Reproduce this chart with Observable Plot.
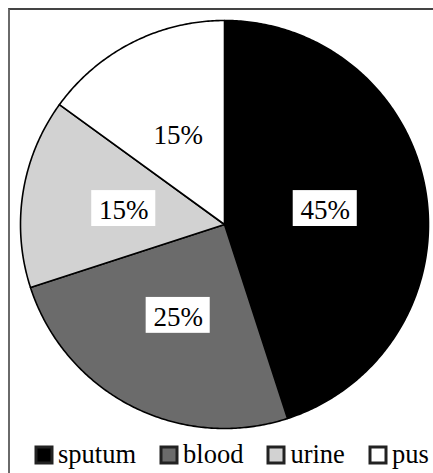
<!DOCTYPE html>
<html><head><meta charset="utf-8">
<script src="https://cdn.jsdelivr.net/npm/d3@7"></script>
<script src="https://cdn.jsdelivr.net/npm/@observablehq/plot@0.6"></script>
<style>
html,body{margin:0;padding:0;background:#fff;overflow:hidden}
#wrap{position:relative;width:433px;height:473px;overflow:hidden;background:#fff}
#frame{position:absolute;left:8px;top:8px;width:600px;height:600px;border-left:2px solid #6a6a6a;border-top:2px solid #444;}
#chart{position:absolute;left:0;top:0}
#legend{position:absolute;left:36px;top:439px;width:420px;white-space:nowrap}
#legend .leg-swatches{font-family:"Liberation Serif",serif !important;font-size:26.5px !important;color:#000 !important;flex-wrap:nowrap !important;min-height:0 !important;margin:0 !important;display:flex !important;align-items:center !important}
#legend .leg-swatch{margin-right:25px !important;font-size:26.5px !important;display:inline-flex !important;align-items:center !important}
#legend .leg-swatch > svg{margin-right:6px !important;width:16px !important;height:16px !important}
#legend .leg-swatch > svg rect{stroke:#222;stroke-width:3px}
</style></head>
<body><div id="wrap"><div id="frame"></div><div id="chart"></div><div id="legend"></div></div>
<script>
const categories = ["sputum", "blood", "urine", "pus"];
const values = [45, 25, 15, 15];
const labels = ["45%", "25%", "15%", "15%"];
const colors = ["#000000", "#6b6b6b", "#d2d2d2", "#ffffff"];

const arcs = d3.pie().sort(null).value(d => d)(values);
const slicePts = [];
arcs.forEach((a, i) => {
  slicePts.push({cat: categories[i], x: 0, y: 0});
  const n = Math.max(2, Math.ceil((a.endAngle - a.startAngle) / 0.01));
  for (let k = 0; k <= n; k++) {
    const t = a.startAngle + (a.endAngle - a.startAngle) * k / n;
    slicePts.push({cat: categories[i], x: Math.sin(t), y: Math.cos(t)});
  }
  slicePts.push({cat: categories[i], x: 0, y: 0});
});
const labelData = arcs.map((a, i) => {
  const m = (a.startAngle + a.endAngle) / 2;
  return {cat: categories[i], label: labels[i], x: 0.5 * Math.sin(m), y: 0.5 * Math.cos(m)};
});
const bw = 0.157, bh = 0.088;

const chart = Plot.plot({
  width: 433, height: 440, margin: 0,
  x: {domain: [-1, 1], range: [20, 428], axis: null},
  y: {domain: [-1, 1], range: [428, 20], axis: null},
  color: {domain: categories, range: colors},
  marks: [
    Plot.line(slicePts, {x: "x", y: "y", z: "cat", fill: "cat", stroke: "#000", strokeWidth: 1.6, curve: "linear", strokeLinejoin: "round"}),
    Plot.rect(labelData, {x1: d => d.x - bw, x2: d => d.x + bw, y1: d => d.y - bh, y2: d => d.y + bh, fill: "#fff"}),
    Plot.text(labelData, {x: "x", y: "y", text: "label", fill: "#000", fontSize: 27, fontFamily: "Liberation Serif", dy: 2})
  ]
});
document.getElementById("chart").appendChild(chart);

const leg = Plot.legend({
  color: {domain: categories, range: colors},
  legend: "swatches", swatchSize: 16, className: "leg",
  style: {fontFamily: "Liberation Serif", fontSize: "26.5px", color: "#000"}
});
document.getElementById("legend").appendChild(leg);
</script>
</body></html>
